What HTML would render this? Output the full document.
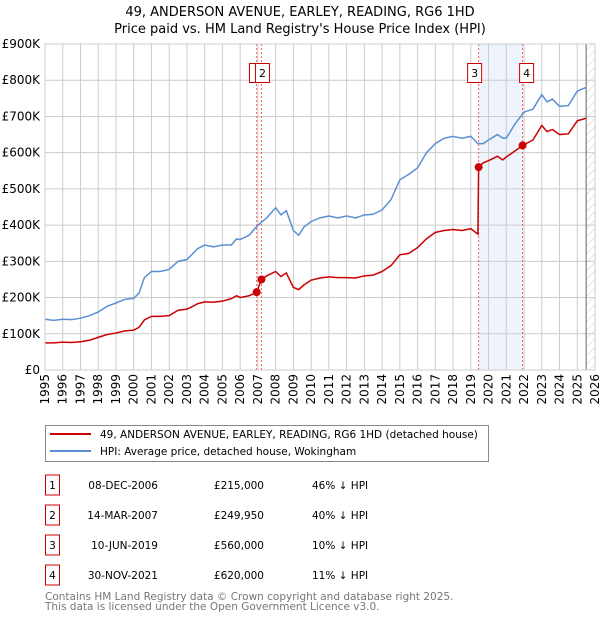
<!DOCTYPE html>
<html><head><meta charset="utf-8"><style>
body{margin:0;background:#fff;font-family:"DejaVu Sans","Liberation Sans",sans-serif;}
svg{display:block}
</style></head><body>
<svg id="c" width="600" height="620" xmlns="http://www.w3.org/2000/svg" font-family="DejaVu Sans, Liberation Sans, sans-serif">
<defs><pattern id="hatch" width="6" height="6" patternUnits="userSpaceOnUse" patternTransform="rotate(45)"><line x1="0" y1="0" x2="0" y2="6" stroke="#ccc" stroke-width="1"/></pattern></defs>
<text x="300" y="16" text-anchor="middle" font-size="13">49, ANDERSON AVENUE, EARLEY, READING, RG6 1HD</text>
<text x="300" y="33" text-anchor="middle" font-size="13">Price paid vs. HM Land Registry's House Price Index (HPI)</text>
<g id="plot"></g>
<g>
<rect x="45.5" y="425.5" width="443" height="36" fill="#fff" stroke="#888"/>
<line x1="50" y1="434" x2="91" y2="434" stroke="#cc0000" stroke-width="2"/>
<text x="100" y="438" font-size="10.5">49, ANDERSON AVENUE, EARLEY, READING, RG6 1HD (detached house)</text>
<line x1="50" y1="451" x2="91" y2="451" stroke="#5b8fd4" stroke-width="2"/>
<text x="100" y="455" font-size="10.5">HPI: Average price, detached house, Wokingham</text>
</g>
<g id="table" font-size="10.5"></g>
<text x="45" y="600" font-size="10.5" fill="#777">Contains HM Land Registry data © Crown copyright and database right 2025.</text>
<text x="45" y="610" font-size="10.5" fill="#777">This data is licensed under the Open Government Licence v3.0.</text>
</svg>
<script>
const hpiYears=[1995,1995.5,1996,1996.5,1997,1997.5,1998,1998.5,1999,1999.5,2000,2000.3,2000.6,2001,2001.5,2002,2002.5,2003,2003.3,2003.6,2004,2004.5,2005,2005.5,2005.8,2006,2006.5,2007,2007.5,2008,2008.3,2008.6,2009,2009.3,2009.6,2010,2010.5,2011,2011.5,2012,2012.5,2013,2013.5,2014,2014.5,2015,2015.5,2016,2016.5,2017,2017.5,2018,2018.5,2019,2019.4,2019.7,2020,2020.5,2020.8,2021,2021.5,2022,2022.5,2023,2023.3,2023.6,2024,2024.5,2025,2025.5];
const hpiVals=[140,137,140,139,143,150,160,176,185,195,198,212,255,272,272,278,300,305,320,335,345,340,345,345,362,360,372,400,420,448,428,440,385,372,395,410,420,425,420,425,420,428,430,442,470,525,540,558,600,625,640,645,640,645,625,625,635,650,640,640,680,712,720,760,740,748,728,730,770,780];
const ppYears=[1995,1995.5,1996,1996.5,1997,1997.5,1998,1998.5,1999,1999.5,2000,2000.3,2000.6,2001,2001.5,2002,2002.5,2003,2003.3,2003.6,2004,2004.5,2005,2005.5,2005.8,2006,2006.5,2006.93,2007.2,2007.5,2008,2008.3,2008.6,2009,2009.3,2009.6,2010,2010.5,2011,2011.5,2012,2012.5,2013,2013.5,2014,2014.5,2015,2015.5,2016,2016.5,2017,2017.5,2018,2018.5,2019,2019.4,2019.44,2019.7,2020,2020.5,2020.8,2021,2021.5,2021.92,2022.5,2023,2023.3,2023.6,2024,2024.5,2025,2025.5];
const ppVals=[75,75,77,76,78,82,90,98,102,108,110,118,138,148,148,150,165,168,175,183,188,187,190,197,205,200,205,215,250,260,272,258,268,228,222,235,248,254,257,255,255,254,260,262,272,288,318,322,338,362,380,385,388,385,390,375,560,572,578,590,580,588,605,620,635,675,658,664,650,652,688,695];
const yTicks=[0,100,200,300,400,500,600,700,800,900];
const yLabels=["£0","£100K","£200K","£300K","£400K","£500K","£600K","£700K","£800K","£900K"];
const xTicks=[1995,1996,1997,1998,1999,2000,2001,2002,2003,2004,2005,2006,2007,2008,2009,2010,2011,2012,2013,2014,2015,2016,2017,2018,2019,2020,2021,2022,2023,2024,2025,2026];
const saleIds=["1","2","3","4"];
const saleYears=[2006.93,2007.2,2019.44,2021.92];
const saleVals=[215,249.95,560,620];
const saleDates=["08-DEC-2006","14-MAR-2007","10-JUN-2019","30-NOV-2021"];
const salePrices=["£215,000","£249,950","£560,000","£620,000"];
const saleDiffs=["46% ↓ HPI","40% ↓ HPI","10% ↓ HPI","11% ↓ HPI"];

const X0=45,X1=595,Y0=370,Y1=44;
const xs=y=>X0+(y-1995)/(2026-1995)*(X1-X0);
const ys=v=>Y0-v/900*(Y0-Y1);
const NS="http://www.w3.org/2000/svg";
const plot=document.getElementById('plot');
function mk(tag,attrs,parent){const e=document.createElementNS(NS,tag);for(const k in attrs)e.setAttribute(k,attrs[k]);(parent||plot).appendChild(e);return e;}

let sh=mk('rect',{x:xs(saleYears[2]),y:Y1,width:xs(saleYears[3])-xs(saleYears[2]),height:Y0-Y1,fill:'#eef3fc'});


let hr=mk('rect',{x:xs(2025.5),y:Y1,width:X1-xs(2025.5),height:Y0-Y1,fill:'url(#hatch)'});


xTicks.forEach(t=>{
  let l=mk('line',{x1:xs(t),x2:xs(t),y1:Y1,y2:Y0,stroke:'#ccc','stroke-width':1});
  
  
  let tx=mk('text',{x:0,y:0,'font-size':12,'text-anchor':'end',transform:`translate(${xs(t)+4},374) rotate(-90)`});
  tx.textContent=t;
  
  
});
yTicks.forEach((t,i)=>{
  let l=mk('line',{x1:X0,x2:X1,y1:ys(t),y2:ys(t),stroke:'#ccc','stroke-width':1});
  
  
  let tx=mk('text',{x:40,y:ys(t)+4,'font-size':12,'text-anchor':'end'});
  tx.textContent=yLabels[i];
  
  
});
let nl=mk('line',{x1:xs(2025.5),x2:xs(2025.5),y1:Y1,y2:Y0,stroke:'#666','stroke-width':1});


saleYears.forEach((s,i)=>{
  let l=mk('line',{x1:xs(s),x2:xs(s),y1:Y1,y2:Y0,stroke:'#f06060','stroke-width':1,'stroke-dasharray':'2,2'});
  
  
});
let hp=mk('polyline',{points:hpiYears.map((y,i)=>xs(y)+','+ys(hpiVals[i])).join(' '),fill:'none',stroke:'#5b8fd4','stroke-width':1.5});


let pp=mk('polyline',{points:ppYears.map((y,i)=>xs(y)+','+ys(ppVals[i])).join(' '),fill:'none',stroke:'#cc0000','stroke-width':1.5});


saleYears.forEach((s,i)=>{
  let c=mk('circle',{cx:xs(s),cy:ys(saleVals[i]),r:4,fill:'#cc0000'});
  
  
});
const labelOffsets=[-4,0,-4,4];
saleYears.forEach((s,i)=>{
  const cx=xs(s)+labelOffsets[i];
  let bx=(i===0)?xs(saleYears[1])-7-5:cx-7;
  if(i===1)bx=xs(saleYears[1])-7+1;
  let r=mk('rect',{x:bx,y:63.5,width:14,height:19,fill:'#fff',stroke:'#cc0000','stroke-width':1});
  
  
  if(i!==0){
    let t=mk('text',{x:bx+7,y:77,'font-size':11,'text-anchor':'middle'});
    t.textContent=saleIds[i];
    
    
  }
});
let ax=mk('rect',{x:X0,y:Y1,width:X1-X0,height:Y0-Y1,fill:'none',stroke:'#ccc'});


const tbl=document.getElementById('table');
saleIds.forEach((id,i)=>{
  const cy=485+i*30;
  let r=mk('rect',{x:45.5,y:cy-10,width:14,height:20,fill:'#fff',stroke:'#cc0000'},tbl);
  
  
  let t=mk('text',{x:52.5,y:cy+4,'text-anchor':'middle'},tbl);t.textContent=id;
  
  
  let d=mk('text',{x:158,y:cy+4,'text-anchor':'end'},tbl);d.textContent=saleDates[i];
  
  
  let p=mk('text',{x:264,y:cy+4,'text-anchor':'end'},tbl);p.textContent=salePrices[i];
  
  
  let h=mk('text',{x:312,y:cy+4},tbl);h.textContent=saleDiffs[i];
  
  
});
</script>
</body></html>
